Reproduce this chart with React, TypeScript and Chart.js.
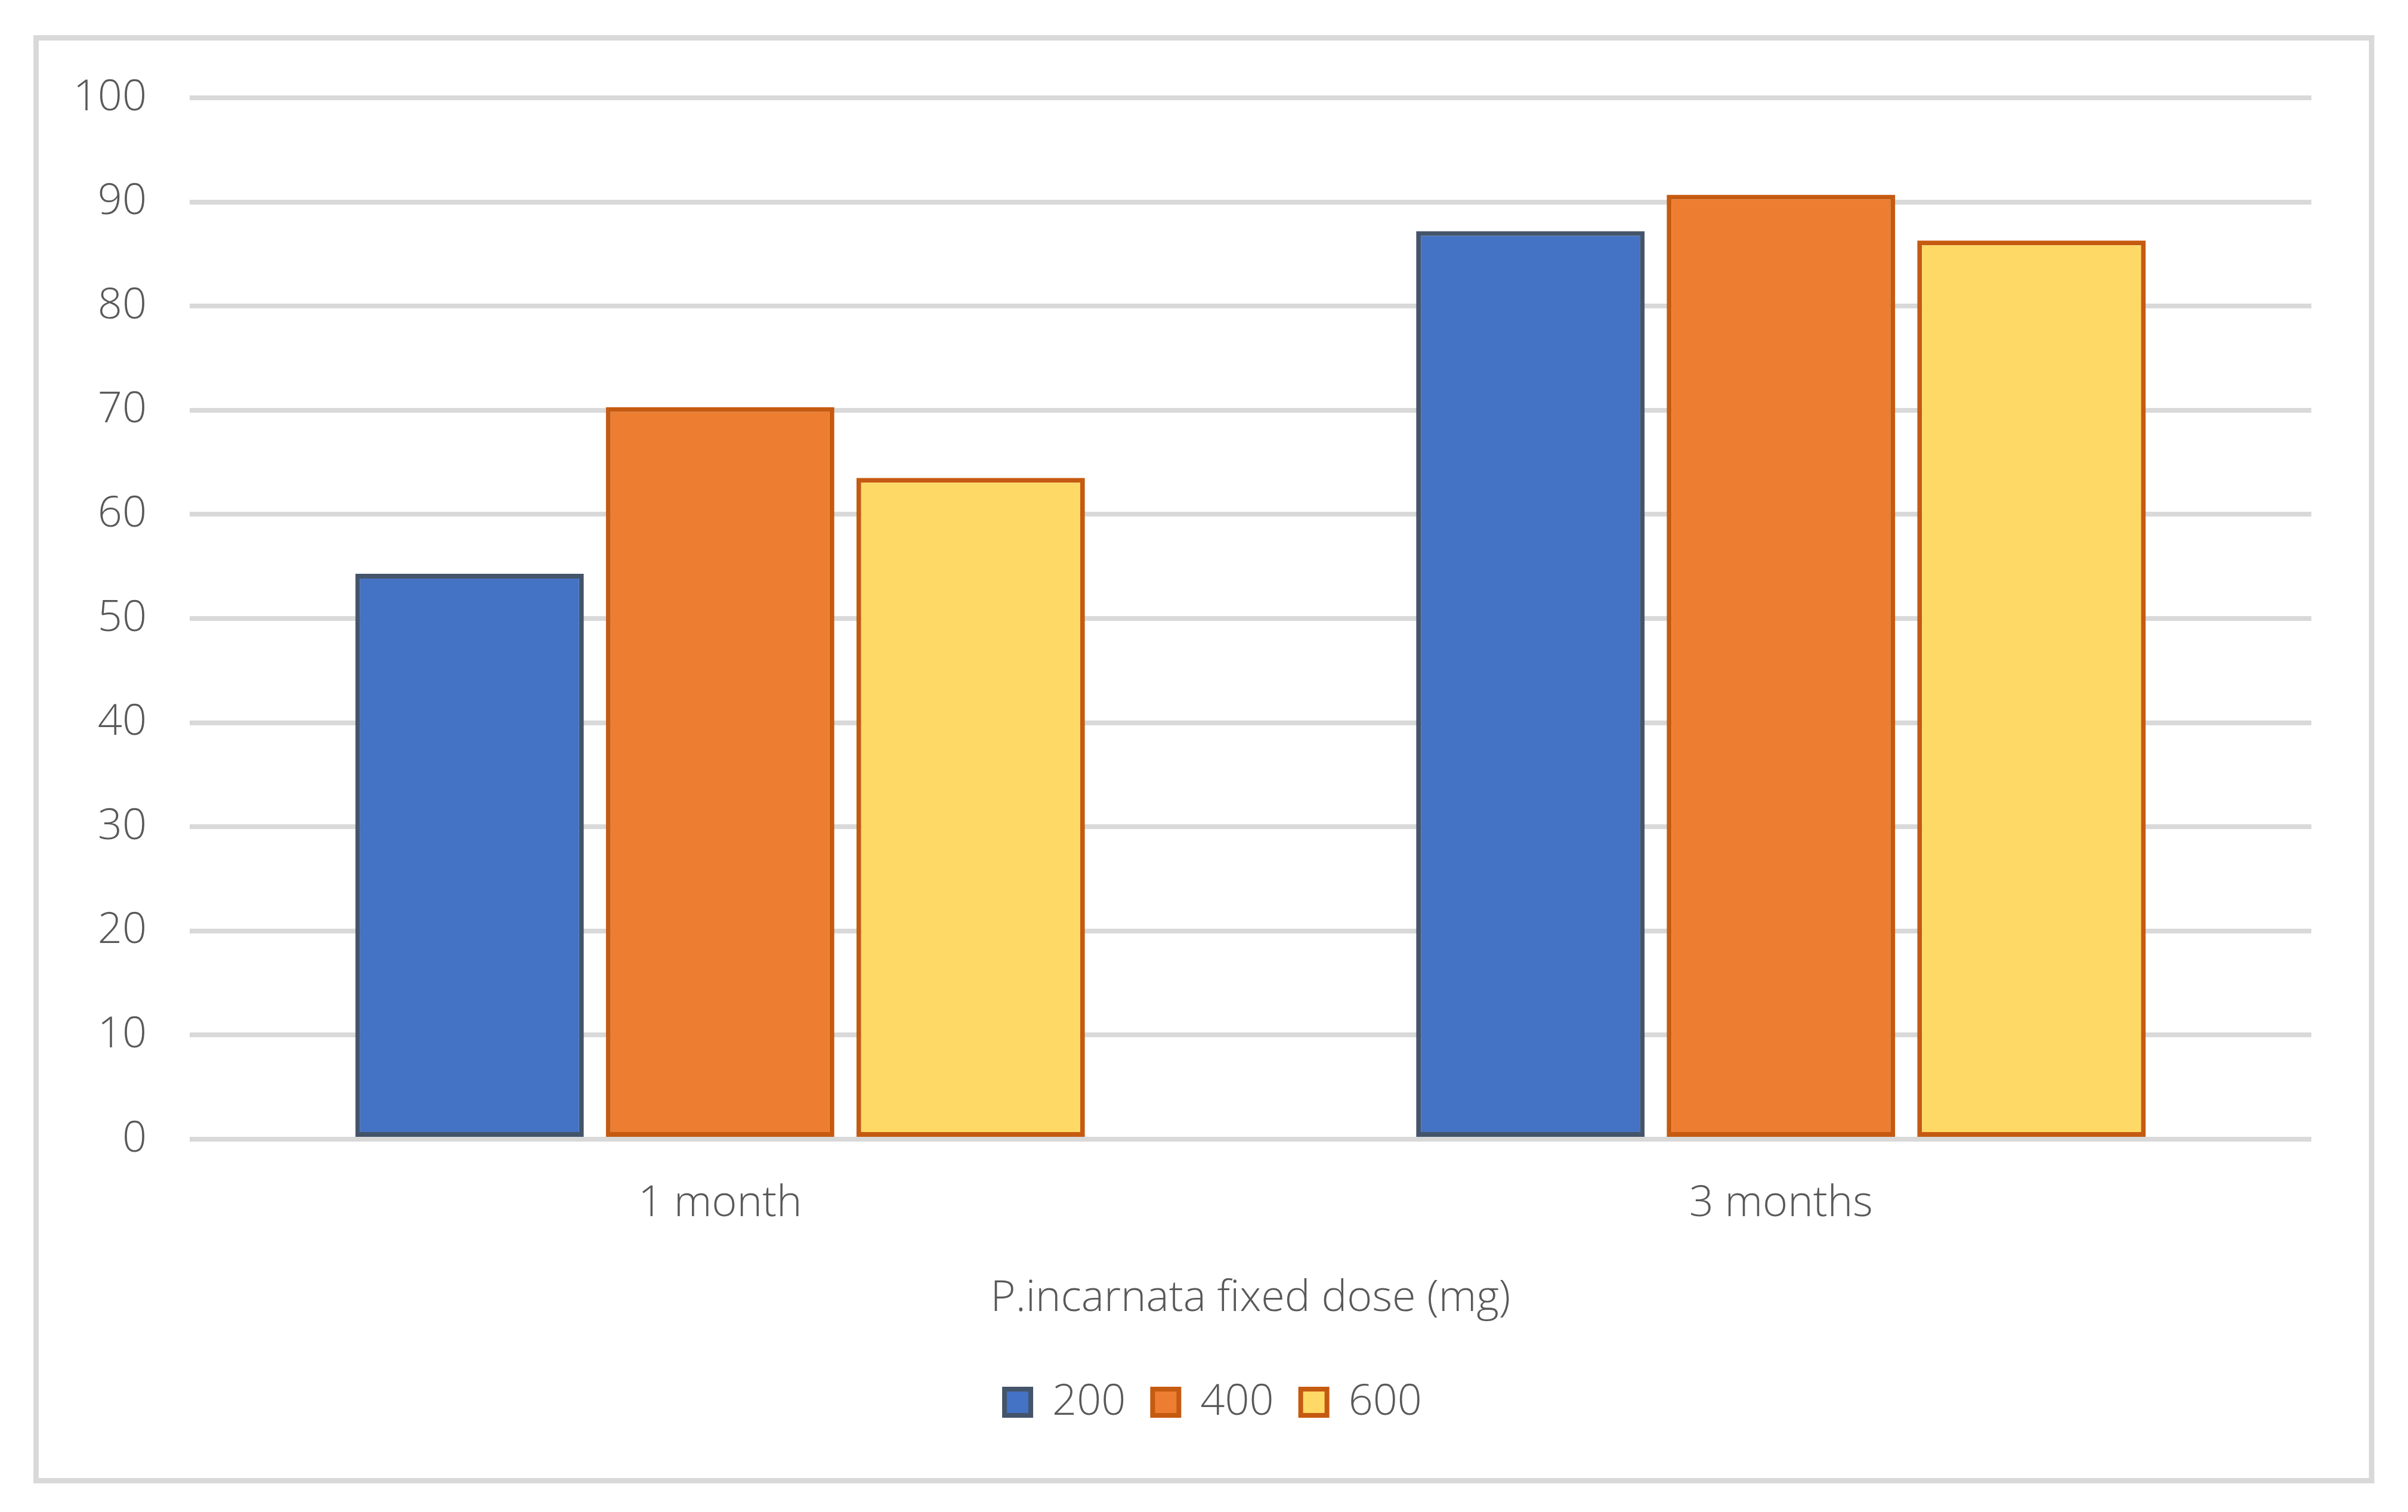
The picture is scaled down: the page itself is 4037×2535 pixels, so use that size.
import React, { useEffect, useRef } from "react";
import { Chart, registerables } from "chart.js";

Chart.register(...registerables);

// ---- data ----
const categories = ["1 month", "3 months"];
const doseLabels = ["200", "400", "600"];
const dose200 = [54.3, 87.2];
const dose400 = [70.3, 90.7];
const dose600 = [63.5, 86.3];
const yMin = 0;
const yMax = 100;
const yStep = 10;
const xTitle = "P.incarnata fixed dose (mg)";

// ---- styles ----
const fillColors = ["#4472C4", "#ED7D31", "#FFD966"];
const borderColors = ["#44546A", "#C55A11", "#C55A11"];
const textColor = "#595959";
const gridColor = "#D9D9D9";
const FONT = { family: "'Open Sans', sans-serif", size: 72, weight: "300" as any };

const W = 4037;
const H = 2535;

const framePlugin = {
  id: "frame",
  beforeDraw(chart: any) {
    const ctx = chart.ctx;
    ctx.save();
    ctx.fillStyle = "#FFFFFF";
    ctx.fillRect(0, 0, chart.width, chart.height);
    ctx.strokeStyle = gridColor;
    ctx.lineWidth = 9;
    ctx.strokeRect(60.5, 63.5, 3976 - 60.5, 2482.5 - 63.5);
    ctx.restore();
  },
};

export default function App() {
  const ref = useRef<HTMLCanvasElement | null>(null);

  useEffect(() => {
    if (!ref.current) return;
    const series = [dose200, dose400, dose600];
    const chart = new Chart(ref.current, {
      type: "bar",
      data: {
        labels: categories,
        datasets: doseLabels.map((label, i) => ({
          label,
          data: series[i],
          backgroundColor: fillColors[i],
          borderColor: borderColors[i],
          borderWidth: 8,
          borderSkipped: false,
          barPercentage: 0.912,
          categoryPercentage: 0.7085,
        })),
      },
      options: {
        responsive: false,
        animation: false,
        devicePixelRatio: 1,
        layout: { padding: { left: 193, right: 162, top: 164, bottom: 138 } },
        plugins: {
          legend: {
            position: "bottom",
            labels: {
              boxWidth: 44,
              boxHeight: 44,
              padding: 45,
              color: textColor,
              font: FONT,
            },
          },
          tooltip: { enabled: false },
        },
        scales: {
          x: {
            grid: { display: false, drawTicks: false },
            border: { display: false },
            ticks: { color: textColor, font: FONT, padding: 65 },
            title: {
              display: true,
              text: xTitle,
              color: textColor,
              font: FONT,
              padding: { top: 0, bottom: 49 },
            },
            afterFit: (s: any) => {
              s.height = 360;
            },
          },
          y: {
            min: yMin,
            max: yMax,
            ticks: { stepSize: yStep, color: textColor, font: FONT, padding: 72 },
            grid: { color: gridColor, lineWidth: 8, drawTicks: false },
            border: { display: false },
            afterFit: (s: any) => {
              s.width = 318 - 193;
              s._computeLabelArea = () => undefined;
            },
          },
        },
      },
      plugins: [framePlugin],
    });
    return () => chart.destroy();
  }, []);

  return (
    <div style={{ position: "fixed", left: 0, top: 0, width: W, height: H, background: "#fff" }}>
      <canvas ref={ref} width={W} height={H} style={{ display: "block", width: W, height: H }} />
    </div>
  );
}
